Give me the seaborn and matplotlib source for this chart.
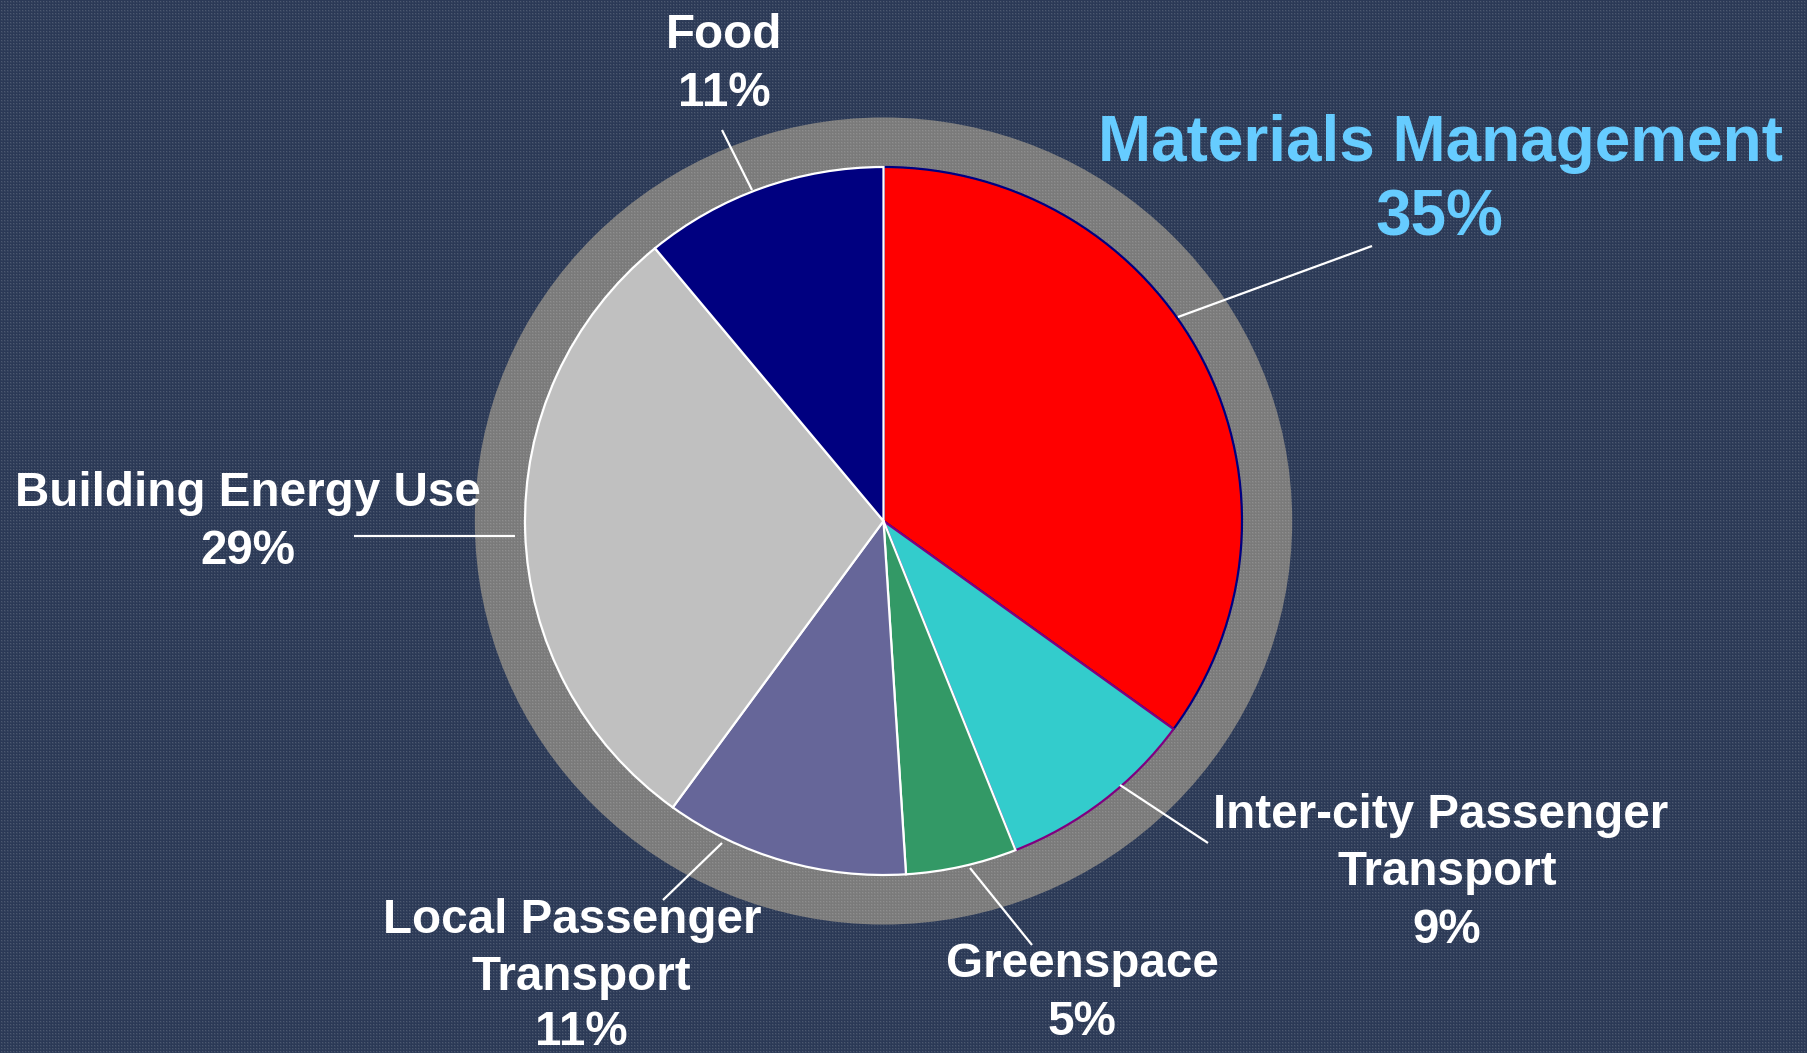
import numpy as np
import matplotlib
matplotlib.use("Agg")
import matplotlib.pyplot as plt
from matplotlib.patches import Circle
import seaborn as sns

# --- data -------------------------------------------------------------
categories = ["Materials Management", "Inter-city Passenger Transport", "Greenspace",
              "Local Passenger Transport", "Building Energy Use", "Food"]
shares = [35, 9, 5, 11, 29, 11]
slice_colors = ["#ff0000", "#33cccc", "#339966", "#666699", "#c0c0c0", "#000080"]
edge_colors = ["#000080", "#800080", "white", "white", "white", "white"]

# label lines (text per line) for each category
label_lines = [
    ["Materials Management", "35%"],
    ["Inter-city Passenger", "Transport", "9%"],
    ["Greenspace", "5%"],
    ["Local Passenger", "Transport", "11%"],
    ["Building Energy Use", "29%"],
    ["Food", "11%"],
]

# --- layout (figure pixels, origin top-left) ----------------------------
W, H = 1808, 1053
CX, CY = 883.5, 521.0        # pie centre
SX, SY = 358.5, 354.0        # pixels per unit radius
RING_R = 1.14

label_x = [[1441, 1439], [1441, 1447, 1447], [1082, 1082], [572, 581, 581], [248, 248], [724, 724]]
label_base = [[161, 236], [828, 885, 943], [977, 1035], [933, 990, 1045], [506, 564], [48, 106]]
leader_px = [
    ((1372, 246), (1178, 317)),
    ((1208, 843), (1120, 785)),
    ((1032, 945), (970, 868)),
    ((663, 900), (722, 843)),
    ((354, 536), (515, 536)),
    ((722, 130), (752, 190)),
]

BG = "#2b3956"
RING = "#7a7a7a"

sns.set_theme(style="white")
plt.rcParams["font.family"] = ["Liberation Sans", "DejaVu Sans"]


def to_data(px, py):
    return (px - CX) / SX, (CY - py) / SY


fig = plt.figure(figsize=(W / 100, H / 100), dpi=100)
fig.patch.set_facecolor(BG)
ax = fig.add_axes([0, 0, 1, 1])
ax.set_axis_off()

xlim = (-CX / SX, (W - CX) / SX)
ylim = (-(H - CY) / SY, CY / SY)

# grey ring behind the pie
ax.add_patch(Circle((0, 0), RING_R, facecolor=RING, edgecolor="none", zorder=1))

# fine woven texture over the backdrop and ring
yy, xx = np.mgrid[0:H, 0:W]
tex = np.zeros((H, W, 4))
dots = (xx % 3 == 1) & (yy % 3 == 1)
lines = ((xx % 3 == 0) | (yy % 3 == 0)) & ~dots
tex[..., :3] = 1.0
tex[..., 3] = np.where(dots, 0.16, np.where(lines, 0.0, 0.05))
ax.imshow(tex, extent=(xlim[0], xlim[1], ylim[0], ylim[1]), interpolation="nearest",
          aspect="auto", zorder=2)

palette = sns.color_palette(slice_colors)
wedges, _ = ax.pie(shares, colors=palette, startangle=90, counterclock=False,
                   radius=1.0, center=(0, 0), frame=False,
                   wedgeprops=dict(linewidth=1.6, edgecolor="white"))
for w, ec in zip(wedges, edge_colors):
    w.set_edgecolor(ec)
    w.set_zorder(3)

# leader lines
for (p0, p1) in leader_px:
    x0, y0 = to_data(*p0)
    x1, y1 = to_data(*p1)
    ax.plot([x0, x1], [y0, y1], color="white", lw=1.6, zorder=4, solid_capstyle="butt")

# labels
for i, lines_txt in enumerate(label_lines):
    big = i == 0
    for txt, lx, lb in zip(lines_txt, label_x[i], label_base[i]):
        x, y = to_data(lx, lb)
        ax.text(x, y, txt, ha="center", va="baseline",
                fontsize=46 if big else 34.3, fontweight="bold",
                color="#66ccff" if big else "white", zorder=5)

ax.set_aspect("auto")
ax.set_xlim(*xlim)
ax.set_ylim(*ylim)

fig.savefig("out.png", dpi=100, facecolor=BG)
